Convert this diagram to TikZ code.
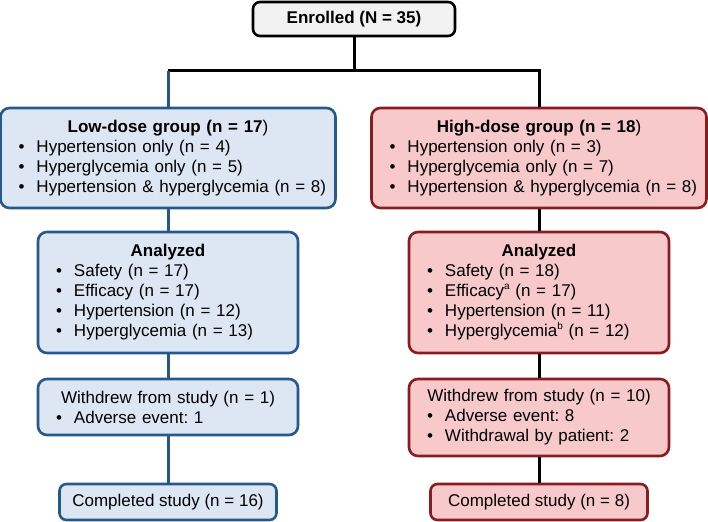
\documentclass[tikz,border=0pt]{standalone}
\usepackage{fontspec}
\setmainfont{Liberation Sans}
\usetikzlibrary{calc}
\definecolor{lowfill}{HTML}{DDE7F3}
\definecolor{lowline}{HTML}{24598A}
\definecolor{highfill}{HTML}{F7C9CB}
\definecolor{highline}{HTML}{8A1C20}
\definecolor{enrfill}{HTML}{F2F2F2}
\def\bitem#1{\mbox{\makebox[18pt][l]{\textbullet}#1}}
\def\head#1{\makebox[\linewidth][c]{#1}}
\def\note#1{\raisebox{0.45em}{\fontsize{10}{10}\selectfont #1}}

\begin{document}
\frenchspacing
\begin{tikzpicture}[x=1pt, y=-1pt,
	box/.style={rounded corners=9pt, line width=2.6pt, inner xsep=18pt, inner ysep=2pt, align=left,
		font=\fontsize{17}{20}\selectfont},
	lowbox/.style={box, draw=lowline, fill=lowfill},
	highbox/.style={box, draw=highline, fill=highfill},
	blackline/.style={line width=3pt, black},
	lowconn/.style={line width=3pt, lowline}]
			%%%%% START %%%%%
			\useasboundingbox (0, 0) rectangle (708, 521);
			
			\node[box, rounded corners=7pt, draw=black, fill=enrfill, align=center, inner xsep=0pt,
				minimum width=202pt, minimum height=34pt] (enr) at (354, 19) {\bfseries Enrolled (N = 35)};
			
			\node[lowbox, text width=299pt, minimum height=100pt] (low) at (168, 158)
				{\head{\bfseries Low-dose group (n = 17\mdseries)}\\
				\bitem{Hypertension only (n = 4)}\\
				\bitem{Hyperglycemia only (n = 5)}\\
				\bitem{Hypertension \& hyperglycemia (n = 8)}};
			\node[highbox, text width=299pt, minimum height=100pt] (high) at (539, 158)
				{\head{\bfseries High-dose group (n = 18\mdseries)}\\
				\bitem{Hypertension only (n = 3)}\\
				\bitem{Hyperglycemia only (n = 7)}\\
				\bitem{Hypertension \& hyperglycemia (n = 8)}};
			
			\node[lowbox, text width=224pt, minimum height=121pt] (lowana) at (168, 292.5)
				{\head{\bfseries Analyzed}\\
				\bitem{Safety (n = 17)}\\
				\bitem{Efficacy (n = 17)}\\
				\bitem{Hypertension (n = 12)}\\
				\bitem{Hyperglycemia (n = 13)}};
			\node[highbox, text width=224pt, minimum height=121pt] (highana) at (539, 292.5)
				{\head{\bfseries Analyzed}\\
				\bitem{Safety (n = 18)}\\
				\bitem{Efficacy\note{a} (n = 17)}\\
				\bitem{Hypertension (n = 11)}\\
				\bitem{Hyperglycemia\note{b} (n = 12)}};
			
			\node[lowbox, text width=224pt, minimum height=56pt] (lowwd) at (168, 407)
				{\head{Withdrew from study (n = 1)}\\
				\bitem{Adverse event: 1}};
			\node[highbox, text width=224pt, minimum height=77pt] (highwd) at (539, 417.5)
				{\head{Withdrew from study (n = 10)}\\
				\bitem{Adverse event: 8}\\
				\bitem{Withdrawal by patient: 2}};
			
			\node[lowbox, rounded corners=7pt, align=center, inner xsep=0pt,
				minimum width=217pt, minimum height=36pt] (lowdone) at (168, 502) {Completed study (n = 16)};
			\node[highbox, rounded corners=7pt, align=center, inner xsep=0pt,
				minimum width=217pt, minimum height=36pt] (highdone) at (539, 502) {Completed study (n = 8)};
			
			\coordinate (fork) at (354, 71);
			\draw[blackline] (enr) -- (fork);
			\draw[blackline] (low.north |- fork) -- (fork) -| (high.north);
			\draw[lowconn] (low.north |- fork) -- (low.north);
			
			\draw[lowconn] (low) -- (lowana);
			\draw[lowconn] (lowana) -- (lowwd);
			\draw[lowconn] (lowwd) -- (lowdone);
			
			\draw[blackline] (high) -- (highana);
			\draw[blackline] (highana) -- (highwd);
			\draw[blackline] (highwd) -- (highdone);
			%%%%% END %%%%%
\end{tikzpicture}
\end{document}
